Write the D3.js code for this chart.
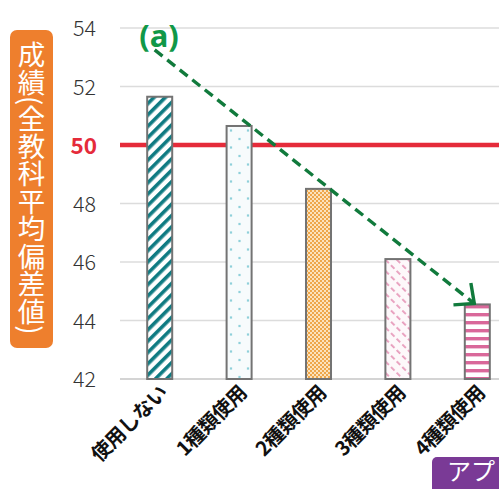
<!DOCTYPE html>
<html>
<head>
<meta charset="utf-8">
<script src="https://cdn.jsdelivr.net/npm/d3@7"></script>
<style>
  html, body { margin: 0; padding: 0; background: #fff; }
  svg { display: block; }
</style>
</head>
<body>
<div id="chart"></div>
<script>
// Categories and average scores (deviation values)
const categories = ["使用しない", "1種類使用", "2種類使用", "3種類使用", "4種類使用"];
const scores = [51.65, 50.65, 48.5, 46.1, 44.55];
const yTicks = [42, 44, 46, 48, 50, 52, 54];
const referenceValue = 50;
const patternIds = ["pStripe", "pDots", "pCheck", "pDash", "pHoriz"];
const yLabel = "成績(全教科平均偏差値)";
const trendLabel = "(a)";
// Trend arrow: from above the first group down to the last bar
const trendStart = { cat: 0, dx: -5, value: 53.25 };
const trendEnd = { cat: 4, dx: -3, value: 44.58 };

const W = 499, H = 489;
const svg = d3.select("#chart").append("svg").attr("width", W).attr("height", H);
const defs = svg.append("defs");

// Fill patterns for each bar
const teal = "#0f7b82";
let p = defs.append("pattern").attr("id", "pStripe").attr("patternUnits", "userSpaceOnUse")
  .attr("width", 8).attr("height", 8).attr("patternTransform", "rotate(45)");
p.append("rect").attr("width", 8).attr("height", 8).attr("fill", "#fff");
p.append("rect").attr("x", 0).attr("width", 3.6).attr("height", 8).attr("fill", teal);

p = defs.append("pattern").attr("id", "pDots").attr("patternUnits", "userSpaceOnUse")
  .attr("width", 17).attr("height", 17).attr("x", 231).attr("y", 0);
p.append("rect").attr("width", 17).attr("height", 17).attr("fill", "#f7fbfc");
[[8.5, 3], [0, 11.5], [17, 11.5]].forEach(([cx, cy]) =>
  p.append("rect").attr("x", cx - 1.1).attr("y", cy - 1.1).attr("width", 2.2).attr("height", 2.2).attr("fill", "#8fd0da"));

p = defs.append("pattern").attr("id", "pCheck").attr("patternUnits", "userSpaceOnUse")
  .attr("width", 4).attr("height", 4);
p.append("rect").attr("width", 4).attr("height", 4).attr("fill", "#fbe2bd");
p.append("rect").attr("width", 2).attr("height", 2).attr("fill", "#eea64a");
p.append("rect").attr("x", 2).attr("y", 2).attr("width", 2).attr("height", 2).attr("fill", "#eea64a");

p = defs.append("pattern").attr("id", "pDash").attr("patternUnits", "userSpaceOnUse")
  .attr("width", 8).attr("height", 8).attr("patternTransform", "rotate(-45)");
p.append("rect").attr("width", 8).attr("height", 8).attr("fill", "#fdf8fa");
p.append("rect").attr("x", 0).attr("y", 0).attr("width", 1.8).attr("height", 5).attr("fill", "#e79bbb");

p = defs.append("pattern").attr("id", "pHoriz").attr("patternUnits", "userSpaceOnUse")
  .attr("width", 8).attr("height", 8).attr("y", 1);
p.append("rect").attr("width", 8).attr("height", 8).attr("fill", "#fff");
p.append("rect").attr("y", 0).attr("width", 8).attr("height", 3.4).attr("fill", "#d9689a");

defs.append("marker").attr("id", "arrowHead").attr("viewBox", "-17 -17 19 34")
  .attr("markerUnits", "userSpaceOnUse").attr("markerWidth", 19).attr("markerHeight", 34)
  .attr("refX", 0).attr("refY", 0).attr("orient", "auto")
  .append("path").attr("d", "M-15.5,-14 L0,0 L-15.5,14")
  .attr("fill", "none").attr("stroke", "#117a3c").attr("stroke-width", 3.4);

// Scales
const plotLeft = 120;
const x = d3.scaleBand().domain(categories).range([plotLeft, plotLeft + 5 * 79.4])
  .paddingInner(0.685).paddingOuter(0.3425);
const y = d3.scaleLinear().domain([42, 54]).range([379, 28]);

// Gridlines
svg.append("g").selectAll("line").data(yTicks.filter(t => t !== referenceValue && t !== 42))
  .join("line")
  .attr("x1", plotLeft).attr("x2", W).attr("y1", d => y(d)).attr("y2", d => y(d))
  .attr("stroke", "#dcdcdc").attr("stroke-width", 1.6);

// Reference line at 50
svg.append("line").attr("x1", plotLeft).attr("x2", W)
  .attr("y1", y(referenceValue)).attr("y2", y(referenceValue))
  .attr("stroke", "#e52b3a").attr("stroke-width", 4.5);

// Baseline
svg.append("line").attr("x1", plotLeft).attr("x2", W)
  .attr("y1", y(42)).attr("y2", y(42)).attr("stroke", "#d4d4d4").attr("stroke-width", 2);

// Y axis tick labels
const yAxis = d3.axisLeft(y).tickValues(yTicks).tickSize(0).tickPadding(0);
const gy = svg.append("g").attr("transform", "translate(96,0)").call(yAxis);
gy.select(".domain").remove();
gy.selectAll("text")
  .attr("font-family", "'Noto Sans CJK JP', 'Noto Sans', sans-serif")
  .attr("font-size", 21.5).attr("font-weight", 300).attr("fill", "#333")
  .attr("dy", "0.36em");
gy.selectAll(".tick").filter(d => d === referenceValue).select("text")
  .attr("font-weight", 700).attr("fill", "#e52b3a").attr("font-size", 22.5)
  .attr("x", 1);

// Bars
svg.append("g").selectAll("rect").data(categories).join("rect")
  .attr("x", d => x(d)).attr("width", x.bandwidth())
  .attr("y", (d, i) => y(scores[i])).attr("height", (d, i) => y(42) - y(scores[i]))
  .attr("fill", (d, i) => `url(#${patternIds[i]})`)
  .attr("stroke", "#737373").attr("stroke-width", 2);

// X axis labels, rotated
const xAxis = d3.axisBottom(x).tickSize(0).tickPadding(0);
const gx = svg.append("g").attr("transform", `translate(0,${y(42)})`).call(xAxis);
gx.select(".domain").remove();
gx.selectAll("text")
  .attr("font-family", "'Noto Sans CJK JP', sans-serif")
  .attr("font-size", 20).attr("font-weight", 700).attr("fill", "#111")
  .attr("letter-spacing", -0.5)
  .attr("text-anchor", "end").attr("dy", 0).attr("y", 0)
  .attr("transform", "translate(9,15) rotate(-45)");

// Trend arrow
const sx = x(categories[trendStart.cat]) + x.bandwidth() / 2 + trendStart.dx;
const ex = x(categories[trendEnd.cat]) + x.bandwidth() / 2 + trendEnd.dx;
svg.append("line")
  .attr("x1", sx).attr("y1", y(trendStart.value))
  .attr("x2", ex).attr("y2", y(trendEnd.value))
  .attr("stroke", "#117a3c").attr("stroke-width", 3.4)
  .attr("stroke-dasharray", "10,6")
  .attr("marker-end", "url(#arrowHead)");

svg.append("text").attr("x", 159).attr("y", 47)
  .attr("text-anchor", "middle")
  .attr("font-family", "'Noto Sans', 'DejaVu Sans', sans-serif")
  .attr("font-size", 31).attr("font-weight", 700).attr("fill", "#109848")
  .text(trendLabel);

// Y axis title box
svg.append("rect").attr("x", 10).attr("y", 30).attr("width", 43).attr("height", 318)
  .attr("rx", 7).attr("fill", "#ee7f2d");
svg.append("text")
  .attr("x", 31.5).attr("y", 41)
  .style("writing-mode", "vertical-rl")
  .attr("font-family", "'Noto Sans CJK JP', sans-serif")
  .attr("font-size", 27.5).attr("fill", "#fff")
  .text(yLabel);

// Corner tag
svg.append("rect").attr("x", 432).attr("y", 457).attr("width", 90).attr("height", 50)
  .attr("rx", 5).attr("fill", "#7a3a96");
svg.append("text").attr("x", 447).attr("y", 480)
  .attr("font-family", "'Noto Sans CJK JP', sans-serif")
  .attr("font-size", 24).attr("fill", "#fff")
  .text("アプ");
</script>
</body>
</html>
